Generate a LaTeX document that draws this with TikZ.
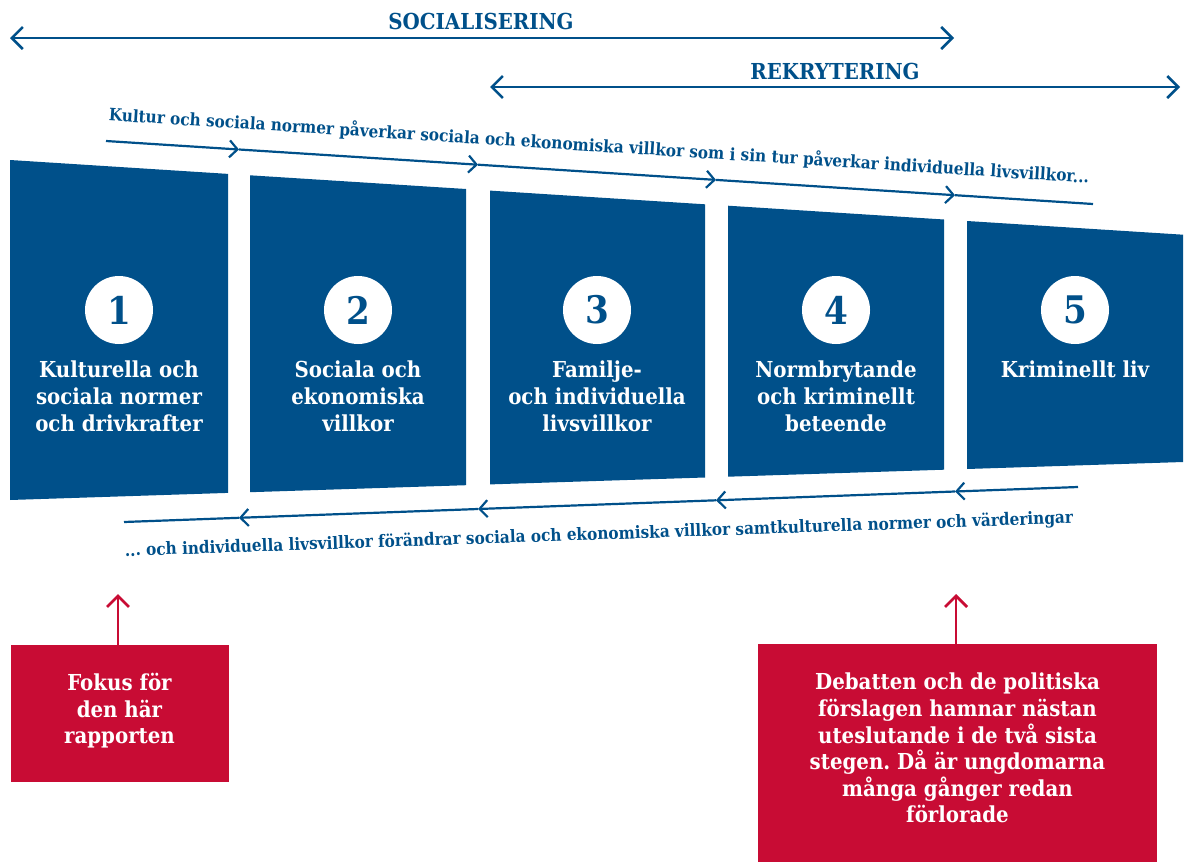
\documentclass[tikz,border=0pt]{standalone}
\usepackage{fontspec}
\setmainfont{DejaVu Serif Condensed}
\usepackage{tikz}
\usetikzlibrary{arrows.meta}
\frenchspacing

\definecolor{brablue}{RGB}{0,80,138}
\definecolor{brared}{RGB}{200,12,52}

\tikzset{
	phase/.style={draw=brablue, line width=2.5pt, {Straight Barb[length=11pt,width=22pt]}-{Straight Barb[length=11pt,width=22pt]}},
	phasetitle/.style={text=brablue, font=\bfseries\fontsize{22}{26}\selectfont, inner sep=0pt},
	flow/.style={draw=brablue, line width=2.2pt, -{Straight Barb[length=8pt,width=17pt]}},
	flowline/.style={draw=brablue, line width=2.2pt},
	flowtext/.style={text=brablue, font=\bfseries\fontsize{17}{20}\selectfont, inner sep=0pt},
	stepnum/.style={circle, fill=white, minimum size=68pt, inner sep=0pt, text=brablue, font=\bfseries\fontsize{38}{40}\selectfont},
	steplabel/.style={text=white, font=\bfseries\fontsize{22}{27}\selectfont, align=center, anchor=north, inner sep=0pt},
	notebox/.style={fill=brared, text=white, font=\bfseries\fontsize{22}{26.6}\selectfont, align=center, inner sep=0pt, text depth=10pt},
	noteup/.style={draw=brared, line width=2.8pt, -{Straight Barb[length=11pt,width=22pt]}}
}

\begin{document}
\begin{tikzpicture}[x=1pt,y=1pt]
	\useasboundingbox (0,0) rectangle (1185,-862);

	% socialisering / rekrytering
	\coordinate (soc-l) at (10,-38);
	\coordinate (soc-r) at (954,-38);
	\coordinate (rek-l) at (490,-87);
	\coordinate (rek-r) at (1180,-87);
	\draw[phase] (soc-l) -- (soc-r);
	\draw[phase] (rek-l) -- (rek-r);
	\node[phasetitle] (soc) at (481,-21) {SOCIALISERING};
	\node[phasetitle] (rek) at (835,-71) {REKRYTERING};

	% the five steps
	\fill[brablue] (10,-160) -- (228,-173.9) -- (228,-492.9) -- (10,-500) -- cycle;
	\fill[brablue] (250,-175.3) -- (466,-189) -- (466,-485.2) -- (250,-492.2) -- cycle;
	\fill[brablue] (490,-190.6) -- (705,-204.3) -- (705,-477.5) -- (490,-484.4) -- cycle;
	\fill[brablue] (728,-205.7) -- (944,-219.5) -- (944,-469.7) -- (728,-476.7) -- cycle;
	\fill[brablue] (967,-221) -- (1183,-234.7) -- (1183,-462) -- (967,-469) -- cycle;

	\node[stepnum] (n1) at (119,-310) {1};
	\node[stepnum] (n2) at (358,-310) {2};
	\node[stepnum] (n3) at (597,-310) {3};
	\node[stepnum] (n4) at (836,-310) {4};
	\node[stepnum] (n5) at (1075,-310) {5};

	\node[steplabel] (l1) at (119,-361) {Kulturella och\\sociala normer\\och drivkrafter};
	\node[steplabel] (l2) at (358,-361) {Sociala och\\ekonomiska\\villkor};
	\node[steplabel] (l3) at (597,-361) {Familje-\\och individuella\\livsvillkor};
	\node[steplabel] (l4) at (836,-361) {Normbrytande\\och kriminellt\\beteende};
	\node[steplabel] (l5) at (1075,-361) {Kriminellt liv};

	% forward line
	\coordinate (t0) at (106,-141);
	\coordinate (t1) at (239,-149.5);
	\coordinate (t2) at (478,-164.7);
	\coordinate (t3) at (716,-179.9);
	\coordinate (t4) at (955,-195.2);
	\coordinate (t5) at (1093,-204);
	\draw[flow] (t0) -- (t1);
	\draw[flow] (t1) -- (t2);
	\draw[flow] (t2) -- (t3);
	\draw[flow] (t3) -- (t4);
	\draw[flowline] (t4) -- (t5);
	\node[flowtext, rotate=-3.65] (fwd) at (599,-146) {Kultur och sociala normer påverkar sociala och ekonomiska villkor som i sin tur påverkar individuella livsvillkor...};

	% backward line
	\coordinate (b0) at (124,-522);
	\coordinate (b1) at (239,-517.8);
	\coordinate (b2) at (478,-509);
	\coordinate (b3) at (716,-500.3);
	\coordinate (b4) at (955,-491.5);
	\coordinate (b5) at (1078,-487);
	\draw[flow] (b5) -- (b4);
	\draw[flow] (b4) -- (b3);
	\draw[flow] (b3) -- (b2);
	\draw[flow] (b2) -- (b1);
	\draw[flowline] (b1) -- (b0);
	\node[flowtext, rotate=2] (bwd) at (599,-535) {... och individuella livsvillkor förändrar sociala och ekonomiska villkor samtkulturella normer och värderingar};

	% notes
	\node[notebox, minimum width=218pt, minimum height=137pt] (focus) at (119.5,-713.5) {Fokus för\\den här\\rapporten};
	\node[notebox, minimum width=399pt, minimum height=218pt] (debate) at (957.5,-753) {Debatten och de politiska\\förslagen hamnar nästan\\uteslutande i de två sista\\stegen. Då är ungdomarna\\många gånger redan\\förlorade};
	\coordinate (focus-tip) at (118,-594);
	\coordinate (debate-tip) at (956,-594);
	\draw[noteup] (focus.north -| focus-tip) -- (focus-tip);
	\draw[noteup] (debate.north -| debate-tip) -- (debate-tip);
\end{tikzpicture}
\end{document}
